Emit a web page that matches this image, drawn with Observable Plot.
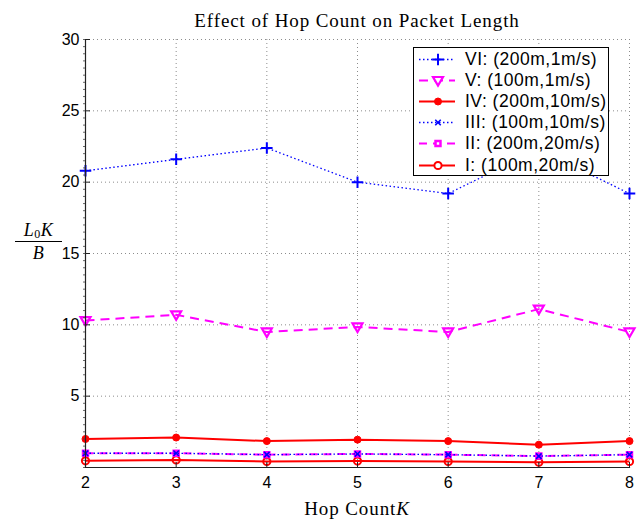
<!DOCTYPE html>
<html><head><meta charset="utf-8">
<script src="https://cdn.jsdelivr.net/npm/d3@7"></script>
<script src="https://cdn.jsdelivr.net/npm/@observablehq/plot@0.6"></script>
<style>
body{margin:0;background:#fff;}
#wrap{position:relative;width:638px;height:522px;overflow:hidden;background:#fff;}
.title{position:absolute;left:0;width:714px;top:11px;text-align:center;font-family:"Liberation Serif",serif;font-size:19px;line-height:19px;letter-spacing:0.9px;white-space:nowrap;color:#000;}
.xlab{position:absolute;left:257px;width:200px;top:499px;text-align:center;font-family:"Liberation Serif",serif;font-size:19px;line-height:19px;letter-spacing:0.9px;white-space:nowrap;}
.frac{position:absolute;left:14px;width:49px;text-align:center;font-family:"Liberation Serif",serif;font-size:18px;line-height:16px;font-style:italic;white-space:nowrap;letter-spacing:0.5px;}
.bar{position:absolute;left:15px;width:47px;top:241px;border-top:1.3px solid #000;height:0;}
#legend{position:absolute;left:413px;top:47px;width:196px;height:129px;border:1.5px solid #000;background:#fff;box-sizing:border-box;}
.row{position:absolute;left:0;height:21px;display:flex;align-items:center;font-family:"Liberation Sans",Arial,sans-serif;font-size:17.5px;letter-spacing:0.5px;white-space:nowrap;}
.row svg{margin-left:3px;margin-right:8px;}
</style></head><body><div id="wrap"></div>
<script>
const hops = [2, 3, 4, 5, 6, 7, 8];
const vI   = [0.47, 0.53, 0.42, 0.45, 0.42, 0.37, 0.42];
const vII  = [1.0, 1.0, 0.9, 0.95, 0.9, 0.8, 0.9];
const vIII = [1.0, 1.0, 0.9, 0.95, 0.9, 0.8, 0.9];
const vIV  = [2.0, 2.1, 1.85, 1.95, 1.85, 1.6, 1.85];
const vV   = [10.3, 10.7, 9.5, 9.85, 9.5, 11.1, 9.5];
const vVI  = [20.8, 21.6, 22.4, 20.0, 19.2, 22.3, 19.2];
const seriesNames = ["I: (100m,20m/s)", "II: (200m,20m/s)", "III: (100m,10m/s)", "IV: (200m,10m/s)", "V: (100m,1m/s)", "VI: (200m,1m/s)"];
const xTicks = [2, 3, 4, 5, 6, 7, 8];
const yTicks = [5, 10, 15, 20, 25, 30];
const yMinor = d3.range(0, 30.001, 0.5);

const triDown = {draw(ctx, size) { const r = Math.sqrt(size / Math.PI); ctx.moveTo(-r, -0.7 * r); ctx.lineTo(r, -0.7 * r); ctx.lineTo(0, r); ctx.closePath(); }};

const RED = "#ff0000", MAG = "#ff00ff", BLUE = "#0000ff";
const styles = [
  {vals: vI,   color: RED,  dash: null,    lw: 2,   sym: "circle", r: 3.6, fill: "none", sw: 2},
  {vals: vII,  color: MAG,  dash: "8,6",   lw: 2,   sym: "square", r: 2.8, fill: "none", sw: 2.5},
  {vals: vIII, color: BLUE, dash: "1.5,2.5", lw: 1.3, sym: "times", r: 2.6, fill: "none", sw: 1.6},
  {vals: vIV,  color: RED,  dash: null,    lw: 2,   sym: "circle", r: 3.5, fill: RED, sw: 1},
  {vals: vV,   color: MAG,  dash: "9,6",   lw: 2,   sym: triDown,  r: 5,   fill: "none", sw: 2.2},
  {vals: vVI,  color: BLUE, dash: "1.5,2.5", lw: 1.3, sym: "plus",   r: 3.8, fill: "none", sw: 2}
];

const marks = [
  Plot.gridX(xTicks.slice(1), {stroke: "#8c8c8c", strokeOpacity: 1, strokeDasharray: "1,3", strokeWidth: 1}),
  Plot.gridY(yTicks, {stroke: "#8c8c8c", strokeOpacity: 1, strokeDasharray: "1,3", strokeWidth: 1})
];
styles.forEach((s, i) => {
  const data = hops.map((h, j) => ({x: h, y: s.vals[j]}));
  marks.push(Plot.line(data, {x: "x", y: "y", stroke: s.color, strokeWidth: s.lw, strokeDasharray: s.dash || undefined, strokeLinecap: "butt"}));
  marks.push(Plot.dot(data, {x: "x", y: "y", symbol: s.sym, r: s.r, stroke: s.color, strokeWidth: s.sw, fill: s.fill}));
});
marks.push(
  Plot.axisX(xTicks, {tickSize: 0, tickPadding: 9, label: null, color: "#000"}),
  Plot.axisX(xTicks, {tickSize: 5, dy: -5, fill: "none", label: null, stroke: "#222"}),
  Plot.axisY(yTicks, {tickSize: 0, tickPadding: 6, label: null, color: "#000"}),
  Plot.axisY(yTicks, {tickSize: 5, dx: 5, fill: "none", label: null, stroke: "#222"}),
  Plot.axisY(yMinor, {tickSize: 2, fill: "none", label: null, stroke: "#444", strokeWidth: 0.8}),
  Plot.frame({anchor: "left", stroke: "#222", strokeWidth: 1.2}),
  Plot.frame({anchor: "bottom", stroke: "#222", strokeWidth: 1.2})
);

const chart = Plot.plot({
  width: 638, height: 522,
  marginLeft: 85, marginRight: 9, marginTop: 39, marginBottom: 55,
  style: {fontFamily: "'Liberation Sans', Arial, sans-serif", fontSize: "16px", background: "white", color: "#000"},
  x: {domain: [2, 8], label: null},
  y: {domain: [0, 30], label: null},
  marks
});
const wrap = document.getElementById("wrap");
wrap.appendChild(chart);

// title and labels
const t = document.createElement("div"); t.className = "title"; t.textContent = "Effect of Hop Count on Packet Length"; wrap.appendChild(t);
const xl = document.createElement("div"); xl.className = "xlab"; xl.innerHTML = "Hop Count<i>K</i>"; wrap.appendChild(xl);
const num = document.createElement("div"); num.className = "frac"; num.style.top = "222px";
num.innerHTML = "L<span style=\"font-style:normal;font-size:12px;position:relative;top:2px\">0</span>K"; wrap.appendChild(num);
const bar = document.createElement("div"); bar.className = "bar"; wrap.appendChild(bar);
const den = document.createElement("div"); den.className = "frac"; den.style.top = "245px"; den.textContent = "B"; wrap.appendChild(den);

// legend (VI first)
const leg = document.createElement("div"); leg.id = "legend"; wrap.appendChild(leg);
const order = [5, 4, 3, 2, 1, 0];
order.forEach((k, i) => {
  const s = styles[k];
  const row = document.createElement("div"); row.className = "row"; row.style.top = (0.5 + i * 21.2) + "px";
  const svg = d3.create("svg").attr("width", 40).attr("height", 21);
  svg.append("line").attr("x1", 2).attr("x2", 38).attr("y1", 10.5).attr("y2", 10.5)
    .attr("stroke", s.color).attr("stroke-width", s.lw).attr("stroke-dasharray", s.dash || null);
  const symType = typeof s.sym === "string" ? ({circle: d3.symbolCircle, square: d3.symbolSquare, times: d3.symbolTimes, plus: d3.symbolPlus})[s.sym] : s.sym;
  svg.append("path").attr("transform", "translate(21,10.5)")
    .attr("d", d3.symbol(symType, Math.PI * s.r * s.r)())
    .attr("stroke", s.color).attr("stroke-width", s.sw).attr("fill", s.fill === "none" ? "white" : s.fill);
  row.appendChild(svg.node());
  const span = document.createElement("span"); span.textContent = seriesNames[k]; row.appendChild(span);
  leg.appendChild(row);
});
</script>
</body></html>
